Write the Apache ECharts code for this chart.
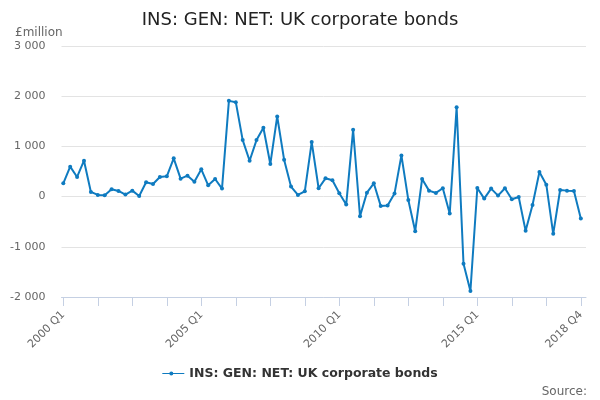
<!DOCTYPE html>
<html><head><meta charset="utf-8">
<script src="https://cdn.jsdelivr.net/npm/echarts@6/dist/echarts.min.js"></script>
<style>html,body{margin:0;padding:0;background:#fff}#c{width:600px;height:400px}</style>
</head><body><div id="c"></div>
<script>
var chartTitle = "INS: GEN: NET: UK corporate bonds";
var unitLabel = "£million";
var seriesName = "INS: GEN: NET: UK corporate bonds";
var startYear = 2000, endYear = 2018;
var quarters = ["Q1","Q2","Q3","Q4"];
var categories = [];
for (var y = startYear; y <= endYear; y++) for (var q = 0; q < 4; q++) categories.push(y + " " + quarters[q]);
var shownLabels = ["2000 Q1","2005 Q1","2010 Q1","2015 Q1","2018 Q4"];
var tickEvery = 5;
var values = [
 265, 596, 391, 715, 93, 33, 26, 146, 113, 40, 119, 13, 285, 252, 391, 404,
 762, 358, 417, 298, 543, 225, 351, 159, 1907, 1881, 1126, 715, 1126, 1371, 649, 1596,
 735, 199, 33, 106, 1086, 166, 364, 325, 66, -159, 1331, -391, 79, 265, -185, -179,
 60, 821, -66, -689, 351, 119, 73, 166, -338, 1781, -1338, -1881, 172, -40, 159, 20,
 166, -53, -7, -682, -166, 490, 238, -742, 132, 119, 113, -437
];
var yMin = -2000, yMax = 3000, yStep = 1000;
var sourceText = "Source:";

var labelIdx = shownLabels.map(function(s){return categories.indexOf(s);});
var tickIdx = [];
for (var i = 0; i < categories.length; i += tickEvery) tickIdx.push(i);
var points = values.map(function(v,i){return [i,v];});

var chart = echarts.init(document.getElementById('c'));
function fmt(v){ var s = Math.abs(v).toString().replace(/\B(?=(\d{3})+(?!\d))/g, " "); return (v<0?"-":"")+s; }
chart.setOption({
  animation:false,
  title:[
    {text:chartTitle,left:'center',top:6,textStyle:{fontFamily:'DejaVu Sans',fontSize:18,fontWeight:'normal',color:'#222'}},
    {text:unitLabel,left:10,top:22,textStyle:{fontFamily:'DejaVu Sans',fontSize:12,fontWeight:'normal',color:'#666'}},
    {text:sourceText,right:8,top:381,textStyle:{fontFamily:'DejaVu Sans',fontSize:12,fontWeight:'normal',color:'#666'}}
  ],
  grid:{left:61.5,right:14,top:46,bottom:103,containLabel:false},
  legend:{bottom:15,left:'center',itemWidth:22,itemHeight:8,itemGap:6,
    textStyle:{fontFamily:'DejaVu Sans',fontSize:12.5,fontWeight:'bold',color:'#333'},
    data:[{name:seriesName,icon:'path://M0,4 L22,4 L22,5 L0,5 Z M9,2.5 A2,2 0 1 1 9,6.5 A2,2 0 1 1 9,2.5 Z'}]},
  xAxis:{type:'value',min:-0.26,max:75.75,
    splitLine:{show:false},
    axisLine:{onZero:false,lineStyle:{color:'#c5d0e3'}},
    axisTick:{show:true,length:9,lineStyle:{color:'#c5d0e3'},customValues:tickIdx},
    axisLabel:{rotate:45,fontFamily:'DejaVu Sans',fontSize:11,color:'#666',margin:16,
      customValues:labelIdx,formatter:function(v){return categories[Math.round(v)];}}},
  yAxis:{type:'value',min:yMin,max:yMax,interval:yStep,
    axisLine:{show:false},axisTick:{show:false},
    axisLabel:{fontFamily:'DejaVu Sans',fontSize:11,color:'#666',margin:16,formatter:fmt},
    splitLine:{lineStyle:{color:'#e3e3e3'}}},
  series:[{name:seriesName,type:'line',data:points,color:'#0f7bc0',
    lineStyle:{width:2},symbol:'circle',symbolSize:4,showSymbol:true}]
});
</script></body></html>
